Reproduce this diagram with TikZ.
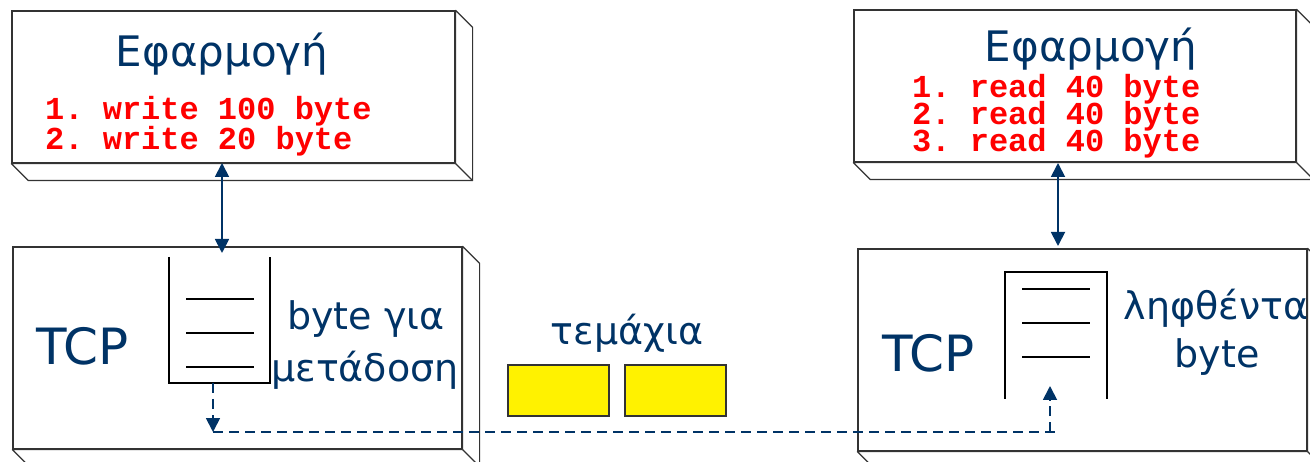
\documentclass[tikz,border=0pt]{standalone}
\usepackage{fontspec}
\setmainfont{DejaVu Sans}
\newfontfamily\redmono{Liberation Mono}
\usetikzlibrary{arrows.meta,calc}
\definecolor{navy}{HTML}{003366}
\definecolor{redtxt}{HTML}{FF0000}
\definecolor{edge}{HTML}{333333}
\newcommand{\redA}{\redmono\bfseries\fontsize{32}{30}\selectfont\setlength{\lineskiplimit}{-50pt}}
\newcommand{\redB}{\redmono\bfseries\fontsize{32}{27}\selectfont\setlength{\lineskiplimit}{-50pt}}
\tikzset{
  >={Triangle[width=14pt,length=14pt]},
  slab/.style={draw=edge, line width=1.2pt, fill=white, inner sep=0pt, rectangle},
  sideface/.style={draw=edge, line width=1.2pt, fill=white, line join=round},
  big/.style={text=navy, font=\fontsize{42}{42}\selectfont, inner sep=0pt, anchor=base},
  cmd/.style={text=redtxt, inner sep=0pt, anchor=base west, align=left},
  bufline/.style={line width=2pt, draw=black},
  conn/.style={draw=navy, line width=1.8pt},
  dconn/.style={conn, dash pattern=on 10pt off 6pt},
  seg/.style={draw=edge, fill=yellow, line width=1.2pt, inner sep=0pt, minimum width=101pt, minimum height=51pt},
}
\newcommand{\slabsides}[2]{%
  \draw[sideface] (#1.south west) -- ++(#2,#2) -- ($(#1.south east)+(#2,#2)$) -- ($(#1.north east)+(#2,#2)$) -- (#1.north east) -- (#1.south east) -- cycle;
  \draw[sideface] (#1.south east) -- ++(#2,#2);}
\begin{document}
\frenchspacing
\begin{tikzpicture}[x=1pt,y=-1pt]
\useasboundingbox (0,0) rectangle (1310,462);
% boxes
\node[slab, minimum width=443pt, minimum height=152pt] (app1) at (233.5,87) {};
\slabsides{app1}{17}
\node[slab, minimum width=449pt, minimum height=202pt] (tcp1) at (237.5,348) {};
\slabsides{tcp1}{17}
\node[slab, minimum width=442pt, minimum height=152pt] (app2) at (1075,86) {};
\slabsides{app2}{17}
\node[slab, minimum width=449pt, minimum height=202pt] (tcp2) at (1082.5,350) {};
\slabsides{tcp2}{17}
% app texts
\node[big] (t1) at (222,67) {Εφαρμογή};
\node[cmd, font=\redA] (w) at (45,150) {1. write 100 byte\\2. write 20 byte};
\node[big] (t2) at (1091,62) {Εφαρμογή};
\node[cmd, font=\redB] (r) at (912,152) {1. read 40 byte\\2. read 40 byte\\3. read 40 byte};
% tcp texts
\node[big, anchor=base west, font=\fontsize{50}{50}\selectfont] (tcpl) at (36,365) {TCP};
\node[big, anchor=base west, font=\fontsize{50}{50}\selectfont] (tcpr) at (882,372) {TCP};
\node[big, font=\fontsize{38}{38}\selectfont] (s1) at (366,330) {byte για};
\node[big, font=\fontsize{38}{38}\selectfont] (s2) at (365,382) {μετάδοση};
\node[big, font=\fontsize{38}{38}\selectfont] (rc1) at (1216,320) {ληφθέντα};
\node[big, font=\fontsize{38}{38}\selectfont] (rc2) at (1217,368) {byte};
\node[big, font=\fontsize{38}{38}\selectfont] (tm) at (627,345) {τεμάχια};
% buffers
\draw[bufline] (169,257) -- (169,383) -- (270,383) -- (270,257);
\draw[bufline] (186,299) -- (254,299) (186,333) -- (254,333) (186,367) -- (254,367);
\draw[bufline] (1005,399) -- (1005,272) -- (1107,272) -- (1107,399);
\draw[bufline] (1022,289) -- (1090,289) (1022,323) -- (1090,323) (1022,357) -- (1090,357);
% segments
\node[seg] (seg1) at (558.5,390.5) {};
\node[seg] (seg2) at (675.5,390.5) {};
% connectors
\coordinate (ua) at (222,163);
\coordinate (ub) at (222,253);
\draw[conn,<->] (ua) -- (ub);
\coordinate (va) at (1058,163);
\coordinate (vb) at (1058,246);
\draw[conn,<->] (va) -- (vb);
\coordinate (d0) at (213,383);
\coordinate (d1) at (213,432);
\coordinate (d2) at (1060,432);
\coordinate (d3) at (1050,432);
\coordinate (d4) at (1050,386);
\draw[dconn,->] (d0) -- (d1);
\draw[dconn] (d1) -- (d2);
\draw[dconn,->] (d3) -- (d4);
\end{tikzpicture}
\end{document}
